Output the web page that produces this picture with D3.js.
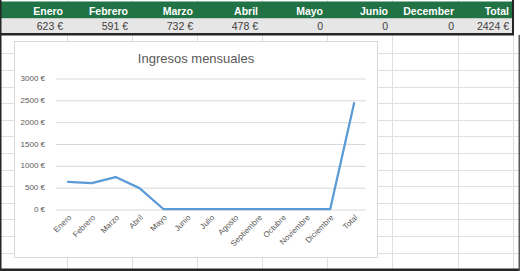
<!DOCTYPE html>
<html><head><meta charset="utf-8">
<script src="https://cdn.jsdelivr.net/npm/d3@7"></script>
<style>html,body{margin:0;padding:0;background:#fff;overflow:hidden}svg{display:block}</style>
</head><body>
<script>
// ---- data ----
const headerLabels = ["Enero","Febrero","Marzo","Abril","Mayo","Junio","December","Total"];
const headerValues = ["623 €","591 €","732 €","478 €","0","0","0","2424 €"];
const categories = ["Enero","Febrero","Marzo","Abril","Mayo","Junio","Julio","Agosto","Septiembre","Octubre","Noviembre","Diciembre","Total"];
const values = [623,591,732,478,0,0,0,0,0,0,0,0,2424];
const yTicks = [0,500,1000,1500,2000,2500,3000];
const chartTitle = "Ingresos mensuales";

const W = 520, H = 271;
const svg = d3.select("body").append("svg").attr("width", W).attr("height", H);
const font = "'Liberation Sans', Arial, sans-serif";

// ---- spreadsheet background ----
const colEdges = [2,67,132,197,262,327,392,458,513];
const gridColor = "#e0e0e0";
const rowLines = d3.range(13).map(i => 53.3 + i * 16.6);
svg.append("g").selectAll("line.h").data(rowLines).join("line")
  .attr("x1", 0).attr("x2", W).attr("y1", d => Math.round(d) + 0.5).attr("y2", d => Math.round(d) + 0.5)
  .attr("stroke", gridColor);
svg.append("g").selectAll("line.v").data(colEdges.slice(1)).join("line")
  .attr("x1", d => d + 0.5).attr("x2", d => d + 0.5).attr("y1", 0).attr("y2", H)
  .attr("stroke", gridColor);

// header row
const colX = d3.scaleBand().domain(headerLabels).range([2, 513]);
svg.append("rect").attr("x", 0).attr("y", 1.5).attr("width", 512).attr("height", 17).attr("fill", "#217346");
svg.append("rect").attr("x", 0).attr("y", 18.5).attr("width", 512).attr("height", 15).attr("fill", "#e7e6e6");
svg.append("rect").attr("x", 0).attr("y", 33).attr("width", 514).attr("height", 2.5).attr("fill", "#262626");
svg.append("rect").attr("x", 512).attr("y", 0).attr("width", 2).attr("height", 35).attr("fill", "#262626");

svg.append("g").selectAll("text").data(headerLabels).join("text")
  .attr("x", (d, i) => colEdges[i + 1] - 4).attr("y", 14.5)
  .attr("text-anchor", "end").attr("font-family", font).attr("font-weight", "bold")
  .attr("font-size", "10.5px").attr("fill", "#ffffff").text(d => d);
svg.append("g").selectAll("text").data(headerValues).join("text")
  .attr("x", (d, i) => colEdges[i + 1] - 4).attr("y", 29.5)
  .attr("text-anchor", "end").attr("font-family", font)
  .attr("font-size", "10.5px").attr("fill", "#404040").text(d => d);

// outer frame
svg.append("rect").attr("x", 0).attr("y", 0).attr("width", 1.5).attr("height", H).attr("fill", "#262626");
svg.append("rect").attr("x", 0).attr("y", 268.5).attr("width", W).attr("height", 3).attr("fill", "#262626");
svg.append("rect").attr("x", 518.5).attr("y", 35).attr("width", 1.5).attr("height", H).attr("fill", "#595959");

// ---- chart ----
svg.append("rect").attr("x", 14.5).attr("y", 41.5).attr("width", 363).attr("height", 216)
  .attr("fill", "#fff").attr("stroke", "#d9d9d9");

svg.append("text").attr("x", 196).attr("y", 63).attr("text-anchor", "middle")
  .attr("font-family", font).attr("font-size", "13px").attr("fill", "#595959").text(chartTitle);

const x = d3.scaleBand().domain(categories).range([56, 366]);
const y = d3.scaleLinear().domain([0, 3000]).range([209, 78]);

const yAxis = svg.append("g").attr("transform", "translate(56,0)")
  .call(d3.axisLeft(y).tickValues(yTicks).tickSize(-310).tickFormat(d => d + " €"));
yAxis.select(".domain").remove();
yAxis.selectAll(".tick line").attr("stroke", "#d9d9d9").attr("transform", "translate(0,0.5)");
yAxis.selectAll(".tick text").attr("x", -11).attr("font-family", font).attr("font-size", "8px").attr("fill", "#595959");

const xAxis = svg.append("g").attr("transform", "translate(0,209)")
  .call(d3.axisBottom(x).tickSize(0));
xAxis.select(".domain").remove();
xAxis.selectAll(".tick text")
  .attr("font-family", font).attr("font-size", "8px").attr("fill", "#595959")
  .attr("text-anchor", "end").attr("dy", null).attr("y", 0)
  .attr("transform", "translate(4,9) rotate(-45)");

const line = d3.line().x((d, i) => x(categories[i]) + x.bandwidth() / 2).y(d => y(d));
svg.append("path").datum(values).attr("d", line).attr("fill", "none")
  .attr("stroke", "#5b9bd5").attr("stroke-width", 2.25).attr("stroke-linejoin", "round").attr("stroke-linecap", "round");
</script>
</body></html>
